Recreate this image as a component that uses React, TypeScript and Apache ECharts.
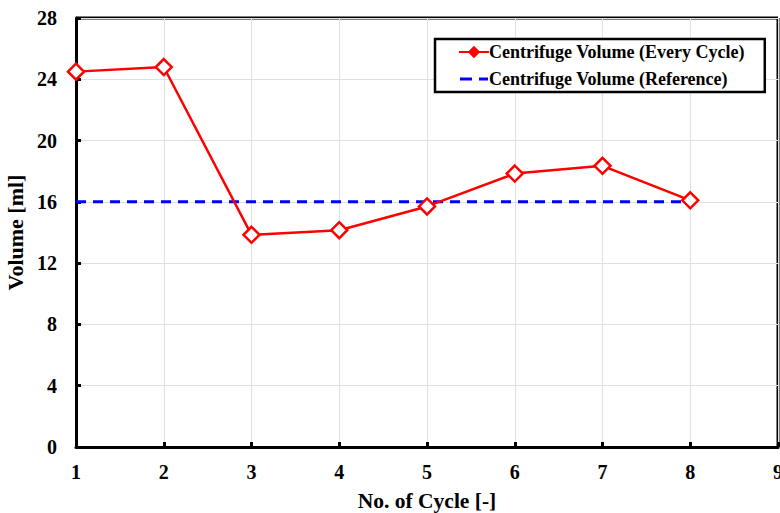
import React, { useEffect, useRef } from "react";
import * as echarts from "echarts";

const cycles = [1, 2, 3, 4, 5, 6, 7, 8];
const everyCycle = [24.5, 24.8, 13.85, 14.15, 15.7, 17.85, 18.35, 16.1];
const reference = [16, 16, 16, 16, 16, 16, 16, 16];
const seriesNames = ["Centrifuge Volume (Every Cycle)", "Centrifuge Volume (Reference)"];

const FONT = "'Times New Roman', 'Liberation Serif', 'DejaVu Serif', serif";

export default function App() {
  const ref = useRef<HTMLDivElement>(null);
  useEffect(() => {
    const chart = echarts.init(ref.current!, null, { renderer: "svg" });
    chart.setOption({
      animation: false,
      textStyle: { fontFamily: FONT },
      grid: { left: 76, right: 2, top: 18, bottom: 66, outerBoundsMode: "none" },
      legend: {
        left: 435,
        top: 39,
        orient: "vertical",
        padding: [4, 20, 4, 23],
        itemGap: 9,
        itemWidth: 30,
        itemHeight: 12,
        borderColor: "#000",
        borderWidth: 2.5,
        backgroundColor: "#fff",
        textStyle: { fontFamily: FONT, fontWeight: "bold", fontSize: 18, color: "#000", padding: [0, 0, 0, -5] },
        data: [
          { name: seriesNames[0], itemStyle: { color: "#ff0000", borderColor: "#ff0000" } },
          {
            name: seriesNames[1],
            icon: "path://M0,0h0.01v12h-0.01z M0,4.5h12v3h-12z M19,4.5h9v3h-9z",
          },
        ],
      },
      xAxis: {
        type: "value",
        min: 1,
        max: 9,
        interval: 1,
        name: "No. of Cycle [-]",
        nameLocation: "middle",
        nameGap: 43,
        nameTextStyle: { fontFamily: FONT, fontWeight: "bold", fontSize: 21.5, color: "#000" },
        axisLine: { show: true, lineStyle: { color: "#000", width: 3 } },
        axisTick: { show: true, inside: true, length: 5, lineStyle: { color: "#000", width: 3 } },
        axisLabel: { fontFamily: FONT, fontWeight: "bold", fontSize: 20, color: "#000", margin: 15 },
        splitLine: { show: true, lineStyle: { color: "#e0e0e0", width: 1 } },
      },
      yAxis: {
        type: "value",
        min: 0,
        max: 28,
        interval: 4,
        name: "Volume [ml]",
        nameLocation: "middle",
        nameGap: 46,
        nameTextStyle: { fontFamily: FONT, fontWeight: "bold", fontSize: 22, color: "#000" },
        axisLine: { show: true, lineStyle: { color: "#000", width: 3 } },
        axisTick: { show: true, inside: true, length: 5, lineStyle: { color: "#000", width: 3 } },
        axisLabel: { fontFamily: FONT, fontWeight: "bold", fontSize: 20, color: "#000", margin: 19 },
        splitLine: { show: true, lineStyle: { color: "#e0e0e0", width: 1 } },
      },
      graphic: [
        {
          type: "line",
          shape: { x1: 76, y1: 18, x2: 778, y2: 18 },
          style: { stroke: "#000", lineWidth: 3 },
        },
        {
          type: "line",
          shape: { x1: 778, y1: 18, x2: 778, y2: 447 },
          style: { stroke: "#000", lineWidth: 3 },
        },
      ],
      series: [
        {
          name: seriesNames[1],
          type: "line",
          data: cycles.map((c, i) => [c, reference[i]]),
          symbol: "none",
          lineStyle: { color: "#0000ff", width: 3, type: [10, 7] },
          itemStyle: { color: "#0000ff" },
          z: 2,
        },
        {
          name: seriesNames[0],
          type: "line",
          data: cycles.map((c, i) => [c, everyCycle[i]]),
          symbol: "diamond",
          symbolSize: 16,
          lineStyle: { color: "#ff0000", width: 2.5 },
          itemStyle: { color: "#ffffff", borderColor: "#ff0000", borderWidth: 2.5 },
          z: 3,
        },
      ],
    });
    return () => chart.dispose();
  }, []);
  return (
    <div
      ref={ref}
      style={{ position: "fixed", left: 0, top: 0, width: 780, height: 513, background: "#fff" }}
    />
  );
}
